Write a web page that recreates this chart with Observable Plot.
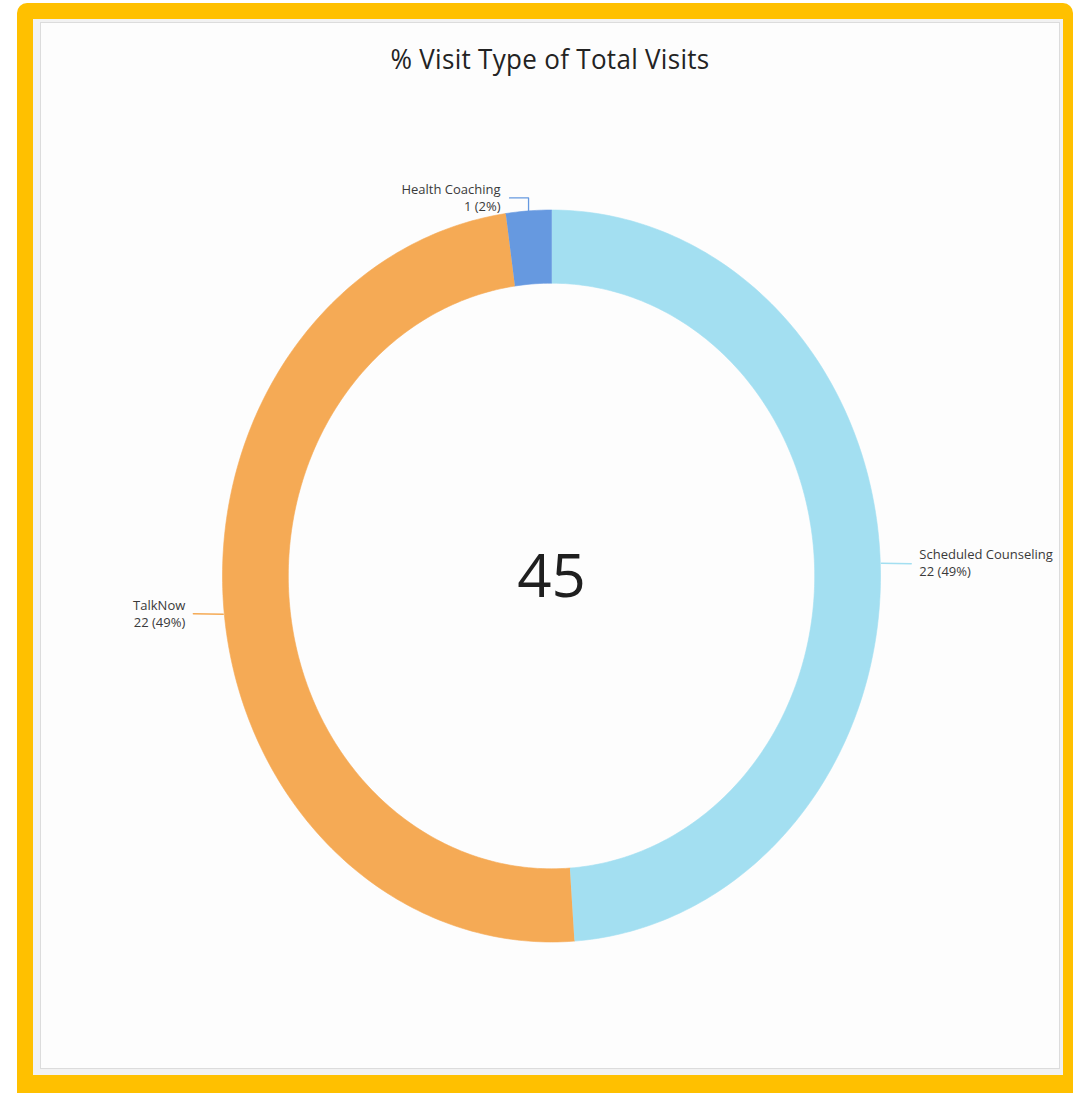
<!DOCTYPE html>
<html>
<head>
<meta charset="utf-8">
<script src="https://cdn.jsdelivr.net/npm/d3@7"></script>
<script src="https://cdn.jsdelivr.net/npm/@observablehq/plot@0.6"></script>
<style>
  html, body { margin: 0; padding: 0; background: #ffffff; width: 1076px; height: 1093px; overflow: hidden; }
  #frame { position: absolute; left: 17px; top: 3px; width: 1056px; height: 1090px; background: #ffc000; border-radius: 10px 10px 0 0; }
  #panel { position: absolute; left: 33px; top: 19px; width: 1030px; height: 1056px; background: #f2f2f2; }
  #inner { position: absolute; left: 40px; top: 22px; width: 1018px; height: 1045px; background: #fdfdfd; border: 1px solid #dcdcdc; }
  #title { position: absolute; left: 40px; top: 41px; width: 1020px; text-align: center; font-family: "Open Sans", "Noto Sans", sans-serif; font-size: 26px; color: #232323; transform: scaleY(1.04); letter-spacing: 0.3px; }
  #chart { position: absolute; left: 40px; top: 90px; }
</style>
</head>
<body>
<div id="frame"></div>
<div id="panel"></div>
<div id="inner"></div>
<div id="title">% Visit Type of Total Visits</div>
<div id="chart"></div>
<script>
// ---- data ----
const categories = ["Scheduled Counseling", "TalkNow", "Health Coaching"];
const values = [22, 22, 1];
const colors = ["#a3dff1", "#f5aa55", "#6699e0"];

// ---- derived ----
const total = d3.sum(values);
const W = 1020, H = 970;
const cx = 511, cy = 485.5, rx = 329, ry = 366; // pixel placement of the ring
const innerRatio = 0.8;
const pxX = 1 / rx, pxY = 1 / ry; // one pixel in data units

const pie = d3.pie().sort(null).value(d => d.value).startAngle(0).endAngle(2 * Math.PI);
const slices = pie(categories.map((c, i) => ({category: c, value: values[i]})));

// ring polygons
const ringPts = [];
for (const s of slices) {
  const n = Math.max(8, Math.ceil((s.endAngle - s.startAngle) / (Math.PI / 180)));
  for (let k = 0; k <= n; k++) {
    const a = s.startAngle + (s.endAngle - s.startAngle) * k / n;
    ringPts.push({category: s.data.category, x: Math.sin(a), y: Math.cos(a)});
  }
  for (let k = n; k >= 0; k--) {
    const a = s.startAngle + (s.endAngle - s.startAngle) * k / n;
    ringPts.push({category: s.data.category, x: innerRatio * Math.sin(a), y: innerRatio * Math.cos(a)});
  }
}

// leader lines and labels
const leaderPts = [];
const labels = [];
for (const s of slices) {
  const m = (s.startAngle + s.endAngle) / 2;
  const x0 = Math.sin(m), y0 = Math.cos(m);
  const cat = s.data.category;
  const pct = Math.round(s.data.value / total * 100);
  const text = `${cat}\n${s.data.value} (${pct}%)`;
  if (Math.abs(y0) > 0.9) {
    const side = x0 < 0 ? -1 : 1;
    const y1 = y0 + Math.sign(y0) * 13 * pxY;
    const x2 = x0 + side * 19 * pxX;
    leaderPts.push({category: cat, x: x0, y: y0}, {category: cat, x: x0, y: y1}, {category: cat, x: x2, y: y1});
    labels.push({category: cat, x: x2, y: y1, text, anchor: side < 0 ? "end" : "start", dx: side * 9, dy: -1});
  } else {
    const side = x0 < 0 ? -1 : 1;
    const x2 = x0 + side * 31 * pxX;
    const y2 = y0 - side * 0.5 * pxY;
    leaderPts.push({category: cat, x: x0 + side * 1 * pxX, y: y0}, {category: cat, x: x2, y: y2});
    labels.push({category: cat, x: x2, y: y2, text, anchor: side < 0 ? "end" : "start", dx: side * 8, dy: side > 0 ? -2 : -1});
  }
}

const chart = Plot.plot({
  width: W,
  height: H,
  marginLeft: cx - rx,
  marginRight: W - (cx + rx),
  marginTop: cy - ry,
  marginBottom: H - (cy + ry),
  x: {domain: [-1, 1], axis: null},
  y: {domain: [-1, 1], axis: null},
  color: {domain: categories, range: colors},
  style: {background: "transparent", fontFamily: "'Open Sans', 'Noto Sans', sans-serif"},
  marks: [
    Plot.line(ringPts, {x: "x", y: "y", z: "category", fill: "category", stroke: "category", strokeWidth: 0.6, curve: "linear"}),
    Plot.line(leaderPts, {x: "x", y: "y", z: "category", stroke: "category", strokeWidth: 1.3, curve: "linear"}),
    ...labels.map(l => Plot.text([l], {x: "x", y: "y", text: "text", textAnchor: l.anchor, dx: l.dx, dy: l.dy, fontSize: 13, lineHeight: 1.35, fill: "#3a3a3a"})),
    Plot.text([total], {x: () => 0, y: () => 0, text: d => String(d), fontSize: 60, fill: "#1f1f1f", dy: 2})
  ]
});
document.getElementById("chart").appendChild(chart);
</script>
</body>
</html>
